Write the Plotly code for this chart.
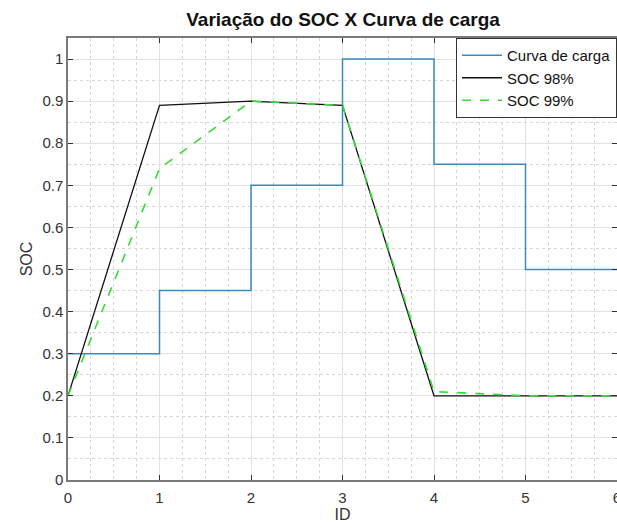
import plotly.graph_objects as go

ids = [0, 1, 2, 3, 4, 5, 6]
curva_carga = [0.3, 0.45, 0.7, 1.0, 0.75, 0.5, 0.5]
soc_98 = [0.2, 0.89, 0.9, 0.89, 0.2, 0.2, 0.2]
soc_99 = [0.2, 0.74, 0.9, 0.89, 0.21, 0.2, 0.2]

FONT = "Liberation Sans, Arial, sans-serif"

fig = go.Figure()
fig.add_trace(go.Scatter(x=ids, y=curva_carga, mode="lines", name="Curva de carga",
                         line=dict(color="#3a8ac0", width=1.5, shape="hv")))
fig.add_trace(go.Scatter(x=ids, y=soc_98, mode="lines", name="SOC 98%",
                         line=dict(color="#111111", width=1.3)))
fig.add_trace(go.Scatter(x=ids, y=soc_99, mode="lines", name="SOC 99%",
                         line=dict(color="#33dd33", width=1.6, dash="dash")))

axis_common = dict(
    showline=True, linecolor="#7a7a7a", linewidth=1.5, mirror="ticks",
    ticks="inside", ticklen=5, tickcolor="#333333", tickwidth=1,
    showgrid=True, gridcolor="#e2e2e2", gridwidth=1,
    zeroline=False, ticklabeloverflow="allow", automargin=False,
    tickfont=dict(family=FONT, size=15, color="#333333"),
)

fig.update_layout(
    width=617, height=528,
    margin=dict(l=68, r=0, t=38, b=48, autoexpand=False),
    paper_bgcolor="white", plot_bgcolor="white",
    font=dict(family=FONT, size=15, color="#262626"),
    title=dict(text="<b>Variação do SOC X Curva de carga</b>", x=0.556, xanchor="center",
               y=0.963, yanchor="middle",
               font=dict(family=FONT, size=19, color="#111111")),
    xaxis=dict(range=[0, 6], dtick=1, tick0=0, ticklabelstandoff=3,
               title=dict(text="ID", standoff=4,
                          font=dict(size=16, color="#333333")),
               minor=dict(dtick=0.25, showgrid=True, griddash="dot",
                          gridcolor="#d6d6d6", gridwidth=1, ticks=""),
               **axis_common),
    yaxis=dict(range=[0, 1.05], dtick=0.1, tick0=0, tickformat="~g",
               title=dict(text="SOC", standoff=6,
                          font=dict(size=16, color="#333333")),
               minor=dict(dtick=0.05, showgrid=True, griddash="dot",
                          gridcolor="#d6d6d6", gridwidth=1, ticks=""),
               **axis_common),
    legend=dict(x=1, xanchor="right", y=1, yanchor="top",
                bgcolor="white", bordercolor="#333333", borderwidth=1,
                font=dict(family=FONT, size=15, color="#111111"),
                tracegroupgap=0, itemwidth=40),
    showlegend=True,
)

fig.write_html("out.html")
